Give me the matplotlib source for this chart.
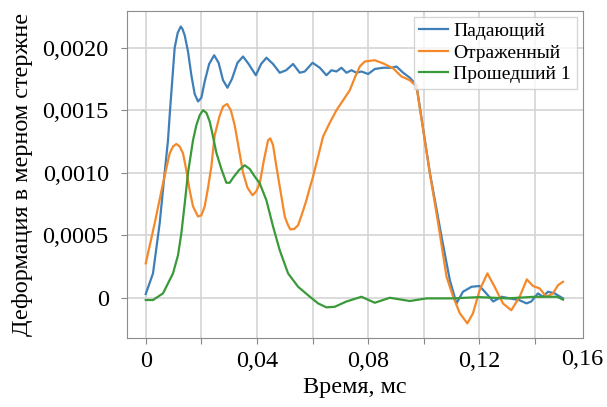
import numpy as np
from matplotlib import pyplot as plt
from matplotlib.ticker import FixedLocator, FuncFormatter

plt.rcParams['font.family'] = ['Liberation Serif', 'DejaVu Serif']

# Падающий
t_inc = [0.0, 0.0026, 0.005, 0.0068, 0.008, 0.0086, 0.0104, 0.0115, 0.0126, 0.0132, 0.014,
         0.0152, 0.0164, 0.0176, 0.0188, 0.02, 0.0212, 0.0228, 0.0246, 0.0262, 0.0278,
         0.0294, 0.031, 0.033, 0.035, 0.037, 0.0396, 0.0415, 0.0434, 0.0458, 0.0482, 0.0505,
         0.053, 0.0554, 0.0572, 0.06, 0.0626, 0.065, 0.0668, 0.0686, 0.0704, 0.0722, 0.074,
         0.0758, 0.0776, 0.08, 0.0824, 0.0854, 0.0884, 0.0902, 0.0926, 0.095, 0.0974, 0.1022,
         0.1064, 0.1094, 0.1118, 0.1141, 0.1172, 0.1201, 0.1225, 0.125, 0.128, 0.131, 0.1345,
         0.137, 0.1387, 0.1411, 0.1429, 0.1447, 0.1471, 0.1501]
e_inc = [0.00003, 0.000195, 0.000595, 0.001, 0.00126, 0.00146, 0.002, 0.00212, 0.00217,
         0.00215, 0.0021, 0.00197, 0.00178, 0.00163, 0.00157, 0.0016, 0.00173, 0.00187,
         0.00194, 0.00188, 0.00174, 0.00168, 0.00175, 0.00188, 0.00193, 0.00187, 0.00178,
         0.00187, 0.00192, 0.00187, 0.0018, 0.00182, 0.00187, 0.0018, 0.00181, 0.00188,
         0.00184, 0.00178, 0.00182, 0.00181, 0.00184, 0.0018, 0.00182, 0.0018, 0.00181,
         0.00179, 0.00183, 0.00184, 0.00184, 0.00185, 0.0018, 0.00176, 0.0017, 0.001,
         0.00049, 0.00014, -0.000045, 0.000048, 0.000088, 0.000094, 0.000035, -0.00003,
         0.000008, -0.000005, -0.00002, -0.000045, -0.00003, 0.000035, 0.000008, 0.000048,
         0.000035, -0.000005]

# Отраженный
t_ref = [0.0, 0.0032, 0.0062, 0.0086, 0.0098, 0.011, 0.0122, 0.0134, 0.0146, 0.0158, 0.017,
         0.0188, 0.02, 0.0212, 0.0224, 0.0236, 0.0248, 0.0265, 0.0278, 0.0293, 0.0306, 0.032,
         0.0335, 0.035, 0.0366, 0.0384, 0.0397, 0.041, 0.0425, 0.044, 0.0448, 0.0458, 0.047,
         0.0482, 0.05, 0.0512, 0.052, 0.0534, 0.0548, 0.0562, 0.0578, 0.059, 0.0602, 0.062,
         0.0638, 0.0662, 0.0686, 0.071, 0.0734, 0.0752, 0.077, 0.0788, 0.0824, 0.0854, 0.089,
         0.092, 0.095, 0.0974, 0.1022, 0.1052, 0.1082, 0.1106, 0.113, 0.1157, 0.1177, 0.1201,
         0.1229, 0.1255, 0.1285, 0.1315, 0.1345, 0.1371, 0.1393, 0.1417, 0.1441, 0.1465,
         0.1483, 0.1501]
e_ref = [0.000275, 0.000595, 0.000915, 0.001155, 0.00121, 0.00123, 0.00121, 0.001155,
         0.00102, 0.00086, 0.00073, 0.00065, 0.00066, 0.00073, 0.00088, 0.00105, 0.0013,
         0.00145, 0.00153, 0.00155, 0.0015, 0.00138, 0.00119, 0.001, 0.00088, 0.00082,
         0.00085, 0.000915, 0.0011, 0.00126, 0.001275, 0.00122, 0.00105, 0.00089, 0.00065,
         0.00058, 0.000547, 0.00055, 0.00058, 0.00067, 0.00078, 0.00088, 0.00097, 0.00113,
         0.00129, 0.0014, 0.0015, 0.00158, 0.00166, 0.00176, 0.00185, 0.00189, 0.0019,
         0.001875, 0.001835, 0.00177, 0.00174, 0.00169, 0.000995, 0.000595, 0.000168,
         0.000008, -0.000125, -0.000205, -0.000125, 0.00006, 0.000195, 0.000088, -0.000045,
         -0.0001, 0.000008, 0.000147, 0.000094, 0.000075, 0.000008, 0.000035, 0.0001,
         0.000128]

# Прошедший 1
t_tr = [0.0, 0.0026, 0.0062, 0.0098, 0.0116, 0.0128, 0.014, 0.0152, 0.017, 0.0182, 0.0194,
        0.0206, 0.0218, 0.023, 0.0239, 0.0254, 0.0272, 0.029, 0.0302, 0.0314, 0.0335,
        0.0356, 0.0374, 0.0392, 0.041, 0.0434, 0.0458, 0.0482, 0.0512, 0.0548, 0.0584,
        0.062, 0.065, 0.068, 0.0722, 0.0776, 0.0824, 0.0878, 0.095, 0.101, 0.11, 0.12, 0.13,
        0.14, 0.148, 0.1501]
e_tr = [-0.000018, -0.000018, 0.000035, 0.000195, 0.00034, 0.000515, 0.00075, 0.001, 0.00126,
        0.00138, 0.00146, 0.0015, 0.00148, 0.00141, 0.00132, 0.00116, 0.00103, 0.00092,
        0.00092, 0.00096, 0.00102, 0.00106, 0.00103, 0.00097, 0.000915, 0.00078, 0.00057,
        0.00038, 0.000195, 0.000088, 0.00002, -0.000045, -0.000077, -0.000072, -0.00003,
        0.000008, -0.00004, 0.0, -0.000026, -0.000005, -0.000005, 0.000005, -0.000005,
        0.000008, 0.000008, -0.000015]

labels = ['Падающий', 'Отраженный', 'Прошедший 1']

fig = plt.figure(figsize=(6.07, 4.07), dpi=100)
ax = fig.add_axes([0.209, 0.1695, 0.751, 0.8035])

ax.plot(t_inc, e_inc, color='#3f7fb8', lw=1.6, label=labels[0])
ax.plot(t_ref, e_ref, color='#f5892a', lw=1.6, label=labels[1])
ax.plot(t_tr, e_tr, color='#3a9a3a', lw=1.6, label=labels[2])

ax.set_xlim(-0.0068, 0.1572)
ax.set_ylim(-0.000322, 0.002294)

ax.xaxis.set_major_locator(FixedLocator(np.arange(0, 0.15, 0.02)))
ax.xaxis.set_major_formatter(FuncFormatter(
    lambda v, p: ('%g' % round(v, 2)).replace('.', ',') if round(v / 0.02) % 2 == 0 else ''))
ax.text(1.0, -0.035, '0,16', transform=ax.transAxes, ha='center', va='top', fontsize=17.5)
ax.yaxis.set_major_locator(FixedLocator([0, 0.0005, 0.001, 0.0015, 0.002]))
ax.yaxis.set_major_formatter(FuncFormatter(
    lambda v, p: '0' if abs(v) < 1e-9 else ('%.4f' % v).replace('.', ',')))

ax.tick_params(labelsize=17.5, length=4, color='#888888', pad=5)
ax.tick_params(axis='y', pad=9)
ax.grid(True, color='#d4d4d4', lw=1.2)
ax.set_axisbelow(True)
for s in ax.spines.values():
    s.set_color('#8c8c8c')

ax.set_xlabel('Время, мс', fontsize=17.5, labelpad=4)
ax.set_ylabel('Деформация в мерном стержне', fontsize=17.5, labelpad=7)

leg = ax.legend(loc='upper right', fontsize=14, handlelength=1.45, handletextpad=0.3,
                borderpad=0.3, labelspacing=0.2, borderaxespad=0.3, fancybox=False)
leg.get_frame().set_edgecolor('#cccccc')

fig.savefig('out.png', dpi=100)
